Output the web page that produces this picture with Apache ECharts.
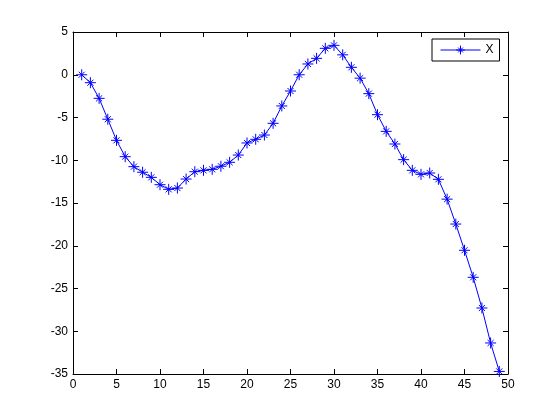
<!DOCTYPE html>
<html>
<head>
<meta charset="utf-8">
<script src="https://cdn.jsdelivr.net/npm/echarts@6/dist/echarts.min.js"></script>
<style>html,body{margin:0;padding:0;background:#fff;}#c{width:560px;height:420px;}</style>
</head>
<body>
<div id="c"></div>
<script>
var xValues = [1,2,3,4,5,6,7,8,9,10,11,12,13,14,15,16,17,18,19,20,21,22,23,24,25,26,27,28,29,30,31,32,33,34,35,36,37,38,39,40,41,42,43,44,45,46,47,48,49];
var yValues = [0.0,-0.93,-2.76,-5.2,-7.67,-9.58,-10.75,-11.4,-12.0,-12.86,-13.4,-13.25,-12.2,-11.34,-11.18,-11.06,-10.7,-10.24,-9.39,-7.98,-7.55,-7.05,-5.68,-3.65,-1.9,0.0,1.26,1.92,3.09,3.44,2.33,0.87,-0.4,-2.21,-4.67,-6.62,-8.1,-9.93,-11.18,-11.65,-11.49,-12.23,-14.55,-17.46,-20.53,-23.69,-27.28,-31.37,-34.7];
var seriesName = 'X';
var xTicks = [0,5,10,15,20,25,30,35,40,45,50];
var yTicks = [-35,-30,-25,-20,-15,-10,-5,0,5];

var data = xValues.map(function(x,i){return [x, yValues[i]];});
var star = 'path://M0,-1L0,1M-1,0L1,0M-0.55,-0.55L0.55,0.55M-0.55,0.55L0.55,-0.55';
var font = 'Liberation Sans, Arial, sans-serif';
var chart = echarts.init(document.getElementById('c'));
function xAxis(pos, show) {
  return {type:'value', position:pos, min:0, max:50, interval:5,
    axisLine:{show:true, onZero:false, lineStyle:{color:'#000', width:1}},
    axisTick:{show:true, inside:true, length:5, lineStyle:{color:'#000'}},
    axisLabel:{show:show, color:'#000', fontSize:12, fontFamily:font, margin:5},
    splitLine:{show:false}};
}
function yAxis(pos, show) {
  return {type:'value', position:pos, min:-35, max:5, interval:5,
    axisLine:{show:true, onZero:false, lineStyle:{color:'#000', width:1}},
    axisTick:{show:true, inside:true, length:5, lineStyle:{color:'#000'}},
    axisLabel:{show:show, color:'#000', fontSize:12, fontFamily:font, margin:5},
    splitLine:{show:false}};
}
chart.setOption({
  animation:false,
  backgroundColor:'#fff',
  grid:{left:73, right:52, top:32, bottom:46, containLabel:false},
  xAxis:[xAxis('bottom', true), xAxis('top', false)],
  yAxis:[yAxis('left', true), yAxis('right', false)],
  legend:{show:true, left:432, top:39, orient:'horizontal',
    borderColor:'#000', borderWidth:1, borderRadius:0, backgroundColor:'#fff',
    padding:[5,6,5,8], itemWidth:40, itemHeight:11, itemGap:0,
    lineStyle:{width:1, color:'#0000ff'},
    itemStyle:{color:'#0000ff', borderColor:'#0000ff', borderWidth:1},
    textStyle:{color:'#000', fontSize:12, fontFamily:font},
    data:[{name:seriesName}]},
  series:[{
    name:seriesName, type:'line', data:data, xAxisIndex:0, yAxisIndex:0,
    symbol:star, symbolSize:11, showAllSymbol:true,
    lineStyle:{color:'#0000ff', width:1},
    itemStyle:{color:'#0000ff', borderColor:'#0000ff', borderWidth:1},
    emphasis:{disabled:true}
  }]
});
</script>
</body>
</html>
